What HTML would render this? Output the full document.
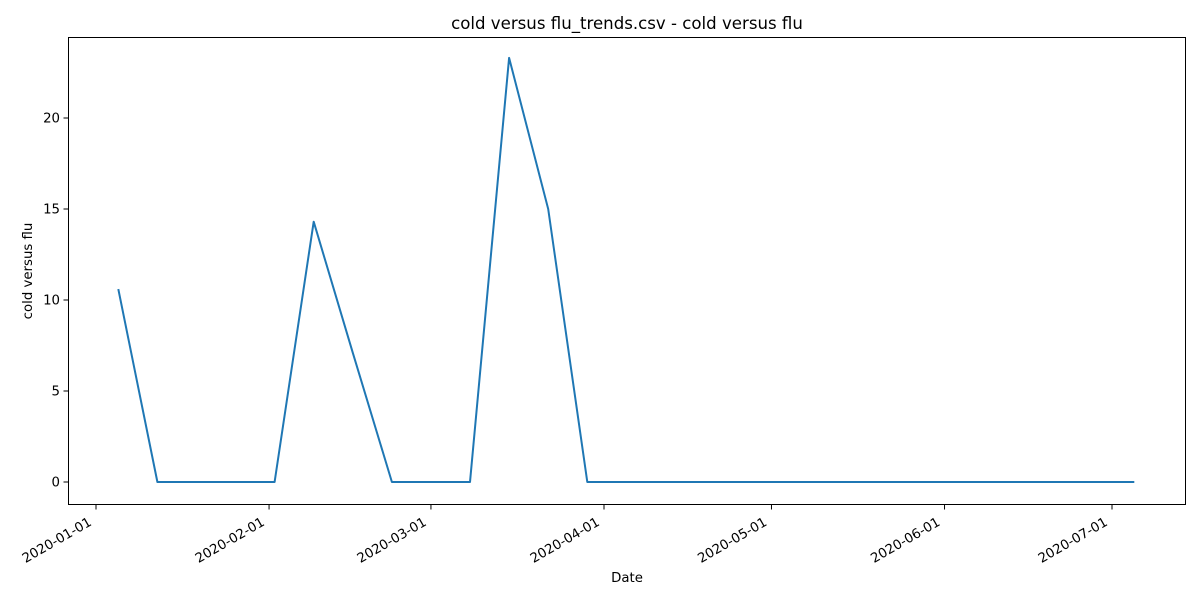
<!DOCTYPE html>
<html>
<head>
<meta charset="utf-8">
<style>
html,body{margin:0;padding:0;background:#fff;}
svg{display:block;font-family:"DejaVu Sans","Liberation Sans",sans-serif;}
</style>
</head>
<body>
<svg id="chart" width="1200" height="600" viewBox="0 0 1200 600">
  <text x="627" y="29" font-size="16.6" text-anchor="middle">cold versus flu_trends.csv - cold versus flu</text>
  <text x="627" y="582" font-size="13.3" text-anchor="middle">Date</text>
  <text transform="translate(32,271) rotate(-90)" font-size="13.3" text-anchor="middle">cold versus flu</text>
  <g id="ticks"></g>
  <path id="series" fill="none" stroke="#1f77b4" stroke-width="2" stroke-linejoin="round"></path>
  <rect x="68.5" y="37.5" width="1117" height="467" fill="none" stroke="#000" stroke-width="1"></rect>
</svg>
<script>
const dates = ["2020-01-05","2020-01-12","2020-01-19","2020-01-26","2020-02-02","2020-02-09","2020-02-16","2020-02-23","2020-03-01","2020-03-08","2020-03-15","2020-03-22","2020-03-29","2020-04-05","2020-04-12","2020-04-19","2020-04-26","2020-05-03","2020-05-10","2020-05-17","2020-05-24","2020-05-31","2020-06-07","2020-06-14","2020-06-21","2020-06-28","2020-07-05"];
const values = [10.6,0,0,0,0,14.3,7.1,0,0,0,23.3,15,0,0,0,0,0,0,0,0,0,0,0,0,0,0,0];
const xTickLabels = ["2020-01-01","2020-02-01","2020-03-01","2020-04-01","2020-05-01","2020-06-01","2020-07-01"];
const yTickValues = [0,5,10,15,20];

const NS = "http://www.w3.org/2000/svg";
const day0 = Date.UTC(2020,0,1);
function toDay(s){const p=s.split("-");return (Date.UTC(+p[0],+p[1]-1,+p[2])-day0)/86400000;}
function xScale(s){return 96 + toDay(s)*(1112-96)/182;}
function yScale(v){return 482 - v*(482-118)/20;}

const ticks = document.getElementById("ticks");
yTickValues.forEach(v=>{
  const y=yScale(v);
  const l=document.createElementNS(NS,"line");
  l.setAttribute("x1",63.5);l.setAttribute("x2",68.5);l.setAttribute("y1",y);l.setAttribute("y2",y);l.setAttribute("stroke","#000");
  
  
  ticks.appendChild(l);
  const t=document.createElementNS(NS,"text");
  t.setAttribute("x",60);t.setAttribute("y",y+4.5);t.setAttribute("font-size","13.3");t.setAttribute("text-anchor","end");
  t.textContent=v;
  
  
  ticks.appendChild(t);
});
xTickLabels.forEach(s=>{
  const x=xScale(s);
  const l=document.createElementNS(NS,"line");
  l.setAttribute("x1",x);l.setAttribute("x2",x);l.setAttribute("y1",504.5);l.setAttribute("y2",509.5);l.setAttribute("stroke","#000");
  
  
  ticks.appendChild(l);
  const t=document.createElementNS(NS,"text");
  t.setAttribute("transform","translate("+(x-8)+",517) rotate(-30)");
  t.setAttribute("font-size","13.3");t.setAttribute("text-anchor","end");t.setAttribute("dominant-baseline","hanging");
  t.textContent=s;
  
  
  ticks.appendChild(t);
});
let d="";
dates.forEach((s,i)=>{d+=(i?"L":"M")+xScale(s).toFixed(1)+","+yScale(values[i]).toFixed(1);});
document.getElementById("series").setAttribute("d",d);
</script>
</body>
</html>
